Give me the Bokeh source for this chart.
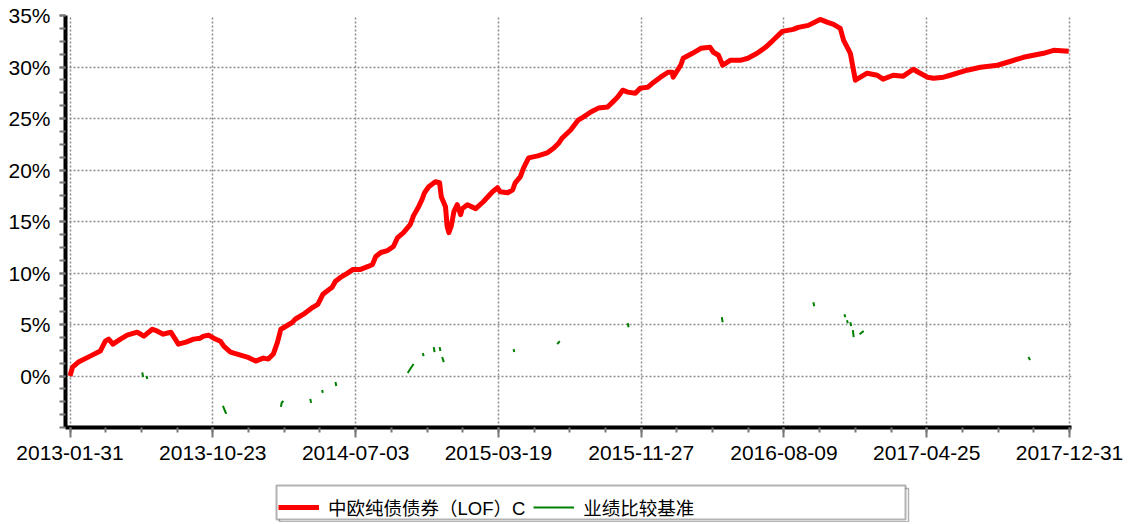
import math
from bokeh.plotting import figure
from bokeh.layouts import column
from bokeh.models import (Range1d, FixedTicker, PrintfTickFormatter, Legend, LegendItem,
                          BoxAnnotation)
from bokeh.embed import file_html
from bokeh.resources import INLINE

# ---------------- data ----------------
tick_dates = ["2013-01-31", "2013-10-23", "2014-07-03", "2015-03-19",
              "2015-11-27", "2016-08-09", "2017-04-25", "2017-12-31"]
days_per_label = 170  # trading days between labelled dates

# 中欧纯债债券（LOF）C cumulative return (%), trading-day index
red_idx = [0, 3, 10, 24, 36, 42, 46, 51, 60, 68, 80, 86, 88, 98, 104, 111, 120, 123,
           129, 138, 147, 155, 159, 165, 171, 179, 183, 191, 203, 211, 221, 230, 236,
           242, 247, 251, 265, 268, 278, 289, 295, 301, 312, 316, 322, 330, 337, 346,
           355, 360, 364, 370, 378, 385, 390, 397, 405, 409, 415, 419, 422, 427, 435,
           440, 442, 447, 449, 451, 454, 457, 461, 465, 467, 473, 483, 492, 503, 509,
           512, 521, 527, 530, 536, 540, 546, 557, 568, 576, 582, 586, 596, 605, 611,
           620, 629, 640, 646, 652, 658, 664, 673, 679, 688, 695, 703, 712, 717, 718,
           727, 730, 741, 751, 762, 766, 772, 777, 786, 798, 807, 818, 828, 837, 848,
           861, 867, 879, 893, 902, 909, 917, 921, 926, 929, 935, 941, 949, 961, 968,
           980, 992, 1004, 1010, 1021, 1028, 1040, 1048, 1068, 1084, 1104, 1120, 1135,
           1159, 1171, 1189]
red_val = [0.00, 0.87, 1.35, 1.93, 2.42, 3.38, 3.58, 3.09, 3.58, 3.96, 4.25, 3.96, 3.87,
           4.54, 4.35, 4.06, 4.25, 3.87, 3.09, 3.29, 3.58, 3.67, 3.87, 3.96, 3.67, 3.38,
           2.90, 2.32, 2.03, 1.84, 1.45, 1.74, 1.64, 2.13, 3.29, 4.54, 5.22, 5.51, 6.00,
           6.67, 6.96, 7.93, 8.61, 9.19, 9.57, 9.96, 10.35, 10.35, 10.64, 10.83, 11.60,
           11.99, 12.18, 12.57, 13.44, 13.92, 14.70, 15.57, 16.44, 17.12, 17.79, 18.37,
           18.86, 18.76, 17.41, 16.44, 14.51, 13.92, 14.60, 15.96, 16.63, 15.67, 16.25,
           16.63, 16.25, 16.92, 17.89, 18.28, 17.89, 17.79, 18.08, 18.76, 19.34, 20.21,
           21.18, 21.37, 21.66, 22.14, 22.63, 23.11, 23.88, 24.85, 25.14, 25.63, 26.01,
           26.11, 26.59, 27.08, 27.75, 27.56, 27.46, 27.95, 28.04, 28.53, 29.01, 29.49,
           29.49, 29.01, 30.17, 30.85, 31.33, 31.81, 31.91, 31.43, 31.14, 30.17, 30.65,
           30.65, 30.85, 31.33, 31.91, 32.59, 33.46, 33.65, 33.85, 34.04, 34.62, 34.33,
           34.14, 33.75, 32.59, 31.81, 31.33, 28.72, 29.01, 29.40, 29.20, 28.82, 29.20,
           29.11, 29.78, 29.49, 29.01, 28.91, 29.01, 29.20, 29.69, 29.98, 30.17, 30.56,
           30.94, 31.33, 31.62, 31.53]

# 业绩比较基准 (%): only short stretches exist, gaps are missing values
nan = float("nan")
green_idx = [86, 87, nan, 91, 92, nan, 182, 184, 186, nan, 251, 252, 254, nan,
             286, 287, nan, 300, 301, nan, 316, 317, nan, 402, 405, 409, nan,
             420, 421, nan, 433, 434, nan, 440, 441, nan, 443, 445, nan, 528, 529, nan,
             580, 583, nan, 664, 665, nan, 776, 777, nan, 885, 886, nan, 922, 923, nan,
             925, 926, nan, 929, 930, nan, 932, 933, nan, 940, 943, 945, nan, 1141, 1143]
green_val = [0.35, -0.10, nan, 0.00, -0.29, nan, -2.90, -3.30, -3.67, nan, -3.00, -2.60, -2.42, nan,
             -2.22, -2.61, nan, -1.35, -1.64, nan, -0.58, -0.97, nan, 0.29, 0.68, 1.16, nan,
             2.22, 1.93, nan, 2.80, 2.32, nan, 2.80, 2.42, nan, 1.84, 1.35, nan, 2.61, 2.32, nan,
             3.09, 3.38, nan, 5.13, 4.74, nan, 5.71, 5.22, nan, 7.16, 6.77, nan, 6.00, 5.71, nan,
             5.42, 5.13, nan, 5.22, 4.84, nan, 4.45, 3.77, nan, 4.06, 4.25, 4.35, nan, 1.84, 1.55]

y_major = [0, 5, 10, 15, 20, 25, 30, 35]

red_label = "中欧纯债债券（LOF）C"
green_label = "业绩比较基准"

RED = "#ff0000"
GREEN = "#008000"
FONT = "Liberation Sans, Noto Sans CJK SC"
W = 1130
BL, BR = 65, 59          # left / right borders (frame spans 65..1071)

# ---------------- main chart ----------------
p = figure(width=W, height=470, output_backend="svg", toolbar_location=None,
           x_range=Range1d(-5.4, 1192.3), y_range=Range1d(-5, 35),
           min_border_left=BL, min_border_right=BR, min_border_top=15, min_border_bottom=43)
p.outline_line_color = None
p.background_fill_color = "white"
p.border_fill_color = "white"

n_labels = len(tick_dates)
x_major = [i * days_per_label for i in range(n_labels)]
x_minor = [i * days_per_label / 4 for i in range(4 * (n_labels - 1) + 1)]
y_minor = [-5 + 1.25 * i for i in range(33)]

p.xaxis.ticker = FixedTicker(ticks=x_major, minor_ticks=x_minor)
p.xaxis.major_label_overrides = {x: d for x, d in zip(x_major, tick_dates)}
p.yaxis.ticker = FixedTicker(ticks=y_major, minor_ticks=y_minor)
p.yaxis.formatter = PrintfTickFormatter(format="%d%%")

for ax in (p.xaxis, p.yaxis):
    ax.axis_line_color = "black"
    ax.axis_line_width = 4
    ax.major_tick_line_color = "#777777"
    ax.minor_tick_line_color = "#777777"
    ax.major_tick_line_width = 2
    ax.minor_tick_line_width = 2
    ax.major_tick_in = 0
    ax.minor_tick_in = 0
    ax.major_label_text_font = FONT
    ax.major_label_text_font_size = "21px"
    ax.major_label_text_color = "black"

p.xaxis.major_tick_out = 10
p.xaxis.minor_tick_out = 5
p.xaxis.major_label_standoff = 8
p.yaxis.major_tick_out = 6
p.yaxis.minor_tick_out = 6
p.yaxis.major_label_standoff = 9

for g in (p.xgrid, p.ygrid):
    g.grid_line_color = "#8c8c8c"
    g.grid_line_dash = "2 2"
    g.grid_line_width = 1.5

p.line(green_idx, green_val, line_color=GREEN, line_width=2)
p.line(red_idx, red_val, line_color=RED, line_width=5, line_join="round")

# ---------------- legend strip ----------------
LH = 52
q = figure(width=W, height=LH, output_backend="svg", toolbar_location=None,
           x_range=Range1d(BL, W - BR), y_range=Range1d(0, LH),
           x_axis_location=None, y_axis_location=None,
           min_border_left=BL, min_border_right=BR, min_border_top=0, min_border_bottom=0)
q.outline_line_color = None
q.xgrid.visible = False
q.ygrid.visible = False
q.background_fill_color = "white"
q.border_fill_color = "white"

# legend frame (screen-pixel aligned) with its offset shadow line
q.add_layout(BoxAnnotation(left=279, right=908, bottom=0.75, top=34,
                           fill_alpha=0, line_color="black", line_width=1.5))
q.add_layout(BoxAnnotation(left=276, right=905, bottom=3, top=37,
                           fill_color="white", fill_alpha=1,
                           line_color="black", line_width=2))

lr = q.line([nan], [nan], line_color=RED, line_width=5)
lg = q.line([nan], [nan], line_color=GREEN, line_width=2)

legend = Legend(items=[LegendItem(label=red_label, renderers=[lr]),
                       LegendItem(label=green_label, renderers=[lg])],
                orientation="horizontal", location=(213, 2),
                border_line_color=None, background_fill_alpha=0,
                padding=5, spacing=8, margin=0, label_standoff=9,
                glyph_width=41, glyph_height=24,
                label_text_font=FONT, label_text_font_size="18.5px",
                label_text_color="black")
q.add_layout(legend)

layout = column(p, q, spacing=0)
open("out.html", "w").write(file_html(layout, INLINE))
